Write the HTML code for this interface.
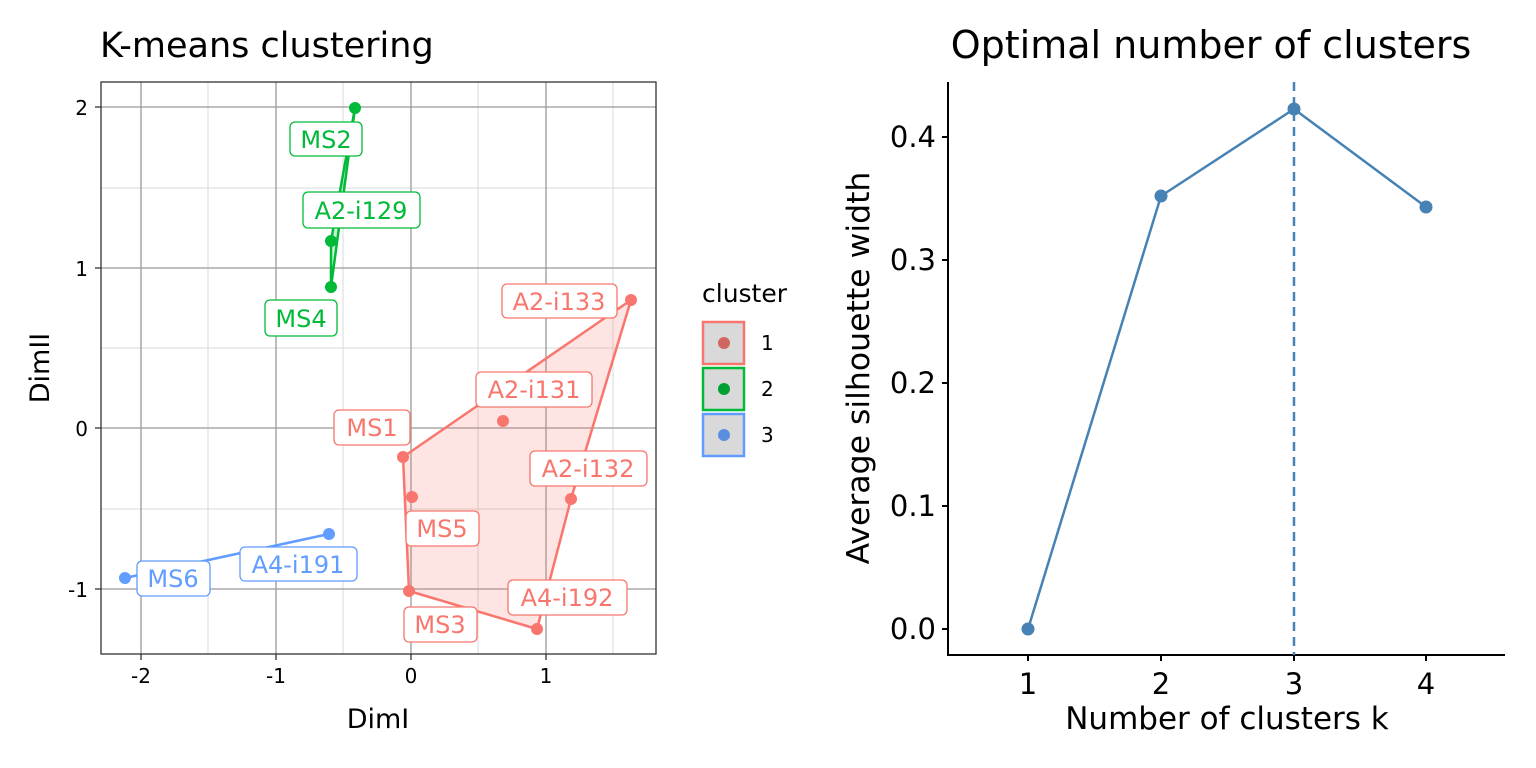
<!DOCTYPE html><html><head><style>body{margin:0;background:#fff}svg{display:block}text{font-family:"DejaVu Sans","Liberation Sans",sans-serif}</style></head><body>
<svg width="1536" height="768" viewBox="0 0 1536 768" xmlns="http://www.w3.org/2000/svg">
<rect width="1536" height="768" fill="#fff"/>
<text x="100" y="57" font-size="35" fill="#000">K-means clustering</text>
<rect x="101" y="82" width="555" height="572" fill="#fff"/>
<g stroke="#d9d9d9" stroke-width="1">
<line x1="208" y1="82" x2="208" y2="654"/><line x1="343" y1="82" x2="343" y2="654"/><line x1="478" y1="82" x2="478" y2="654"/><line x1="613" y1="82" x2="613" y2="654"/>
<line x1="101" y1="188" x2="656" y2="188"/><line x1="101" y1="348" x2="656" y2="348"/><line x1="101" y1="509" x2="656" y2="509"/>
</g>
<g stroke="#999" stroke-width="1.3">
<line x1="141" y1="82" x2="141" y2="654"/><line x1="276" y1="82" x2="276" y2="654"/><line x1="411" y1="82" x2="411" y2="654"/><line x1="546" y1="82" x2="546" y2="654"/>
<line x1="101" y1="107" x2="656" y2="107"/><line x1="101" y1="268" x2="656" y2="268"/><line x1="101" y1="428" x2="656" y2="428"/><line x1="101" y1="589" x2="656" y2="589"/>
</g>
<polygon points="403,457 631,300 571,499 537,629 409,591" fill="#F8766D" fill-opacity="0.2" stroke="#F8766D" stroke-width="2.5"/>
<polygon points="355,108 331,241 331,287" fill="#00BA38" fill-opacity="0.2" stroke="#00BA38" stroke-width="2.5"/>
<line x1="125" y1="578" x2="329" y2="534" stroke="#619CFF" stroke-width="2.5"/>
<g fill="#F8766D"><circle cx="403" cy="457" r="6"/><circle cx="412" cy="497" r="6"/><circle cx="409" cy="591" r="6"/><circle cx="537" cy="629" r="6"/><circle cx="571" cy="499" r="6"/><circle cx="631" cy="300" r="6"/><circle cx="503" cy="421" r="6"/></g>
<g fill="#00BA38"><circle cx="355" cy="108" r="6"/><circle cx="331" cy="241" r="6"/><circle cx="331" cy="287" r="6"/></g>
<g fill="#619CFF"><circle cx="125" cy="578" r="6"/><circle cx="329" cy="534" r="6"/></g>
<g font-size="24" text-anchor="middle" stroke-width="1.3">
<g fill="#fff" stroke="#00BA38"><rect x="290" y="122" width="72" height="34" rx="5"/><rect x="303" y="192" width="117" height="36" rx="5"/><rect x="265" y="300" width="72" height="36" rx="5"/></g>
<g fill="#00BA38"><text x="326" y="148">MS2</text><text x="361" y="219">A2-i129</text><text x="301" y="327">MS4</text></g>
<g fill="#fff" stroke="#F8766D"><rect x="502" y="284" width="115" height="34" rx="5"/><rect x="476" y="372" width="116" height="35" rx="5"/><rect x="334" y="410" width="76" height="35" rx="5"/><rect x="530" y="451" width="117" height="35" rx="5"/><rect x="406" y="511" width="73" height="35" rx="5"/><rect x="508" y="580" width="119" height="35" rx="5"/><rect x="404" y="607" width="73" height="35" rx="5"/></g>
<g fill="#F8766D"><text x="559" y="310">A2-i133</text><text x="534" y="398">A2-i131</text><text x="372" y="436">MS1</text><text x="588" y="477">A2-i132</text><text x="442" y="537">MS5</text><text x="567" y="606">A4-i192</text><text x="440" y="633">MS3</text></g>
<g fill="#fff" stroke="#619CFF"><rect x="240" y="547" width="117" height="34" rx="5"/><rect x="137" y="561" width="73" height="35" rx="5"/></g>
<g fill="#619CFF"><text x="298" y="573">A4-i191</text><text x="173" y="587">MS6</text></g>
</g>
<rect x="101" y="82" width="555" height="572" fill="none" stroke="#333" stroke-width="1.3"/>
<g stroke="#333" stroke-width="1.3"><line x1="141" y1="654" x2="141" y2="660"/><line x1="276" y1="654" x2="276" y2="660"/><line x1="411" y1="654" x2="411" y2="660"/><line x1="546" y1="654" x2="546" y2="660"/>
<line x1="95" y1="107" x2="101" y2="107"/><line x1="95" y1="268" x2="101" y2="268"/><line x1="95" y1="428" x2="101" y2="428"/><line x1="95" y1="589" x2="101" y2="589"/></g>
<g font-size="20" fill="#000" text-anchor="middle"><text x="141" y="683">-2</text><text x="276" y="683">-1</text><text x="411" y="683">0</text><text x="546" y="683">1</text></g>
<g font-size="20" fill="#000" text-anchor="end"><text x="88" y="115">2</text><text x="88" y="276">1</text><text x="88" y="436">0</text><text x="88" y="597">-1</text></g>
<text x="378" y="728" font-size="27" text-anchor="middle">DimI</text>
<text transform="translate(49,368) rotate(-90)" font-size="27" text-anchor="middle">DimII</text>
<text x="702" y="302" font-size="25">cluster</text>
<g stroke-width="2.5" fill="#d9d9d9"><rect x="703" y="322" width="41" height="42" stroke="#F8766D"/><rect x="703" y="368" width="41" height="42" stroke="#00BA38"/><rect x="703" y="414" width="41" height="42" stroke="#619CFF"/></g>
<circle cx="724" cy="343" r="6" fill="#d0665f"/><circle cx="724" cy="389" r="6" fill="#00a032"/><circle cx="724" cy="435" r="6" fill="#5b8ee0"/>
<g font-size="20"><text x="761" y="350">1</text><text x="761" y="396">2</text><text x="761" y="442">3</text></g>
<text x="1211" y="58" font-size="38" text-anchor="middle">Optimal number of clusters</text>
<line x1="948" y1="82" x2="948" y2="655" stroke="#000" stroke-width="2"/>
<line x1="947" y1="655" x2="1505" y2="655" stroke="#000" stroke-width="2"/>
<line x1="1294" y1="82" x2="1294" y2="655" stroke="#4682B4" stroke-width="2.5" stroke-dasharray="9,6"/>
<polyline points="1028,629 1161,196 1294,109 1426,207" fill="none" stroke="#4682B4" stroke-width="2.5"/>
<g fill="#4682B4"><circle cx="1028" cy="629" r="6.5"/><circle cx="1161" cy="196" r="6.5"/><circle cx="1294" cy="109" r="6.5"/><circle cx="1426" cy="207" r="6.5"/></g>
<g stroke="#000" stroke-width="2"><line x1="942" y1="629" x2="948" y2="629"/><line x1="942" y1="506" x2="948" y2="506"/><line x1="942" y1="383" x2="948" y2="383"/><line x1="942" y1="260" x2="948" y2="260"/><line x1="942" y1="137" x2="948" y2="137"/>
<line x1="1028" y1="655" x2="1028" y2="661"/><line x1="1161" y1="655" x2="1161" y2="661"/><line x1="1294" y1="655" x2="1294" y2="661"/><line x1="1426" y1="655" x2="1426" y2="661"/></g>
<g font-size="29" text-anchor="end"><text x="936" y="639">0.0</text><text x="936" y="516">0.1</text><text x="936" y="393">0.2</text><text x="936" y="270">0.3</text><text x="936" y="147">0.4</text></g>
<g font-size="29" text-anchor="middle"><text x="1028" y="694">1</text><text x="1161" y="694">2</text><text x="1294" y="694">3</text><text x="1426" y="694">4</text></g>
<text x="1227" y="729" font-size="31" text-anchor="middle">Number of clusters k</text>
<text transform="translate(869,368) rotate(-90)" font-size="31.5" text-anchor="middle">Average silhouette width</text>
</svg></body></html>
